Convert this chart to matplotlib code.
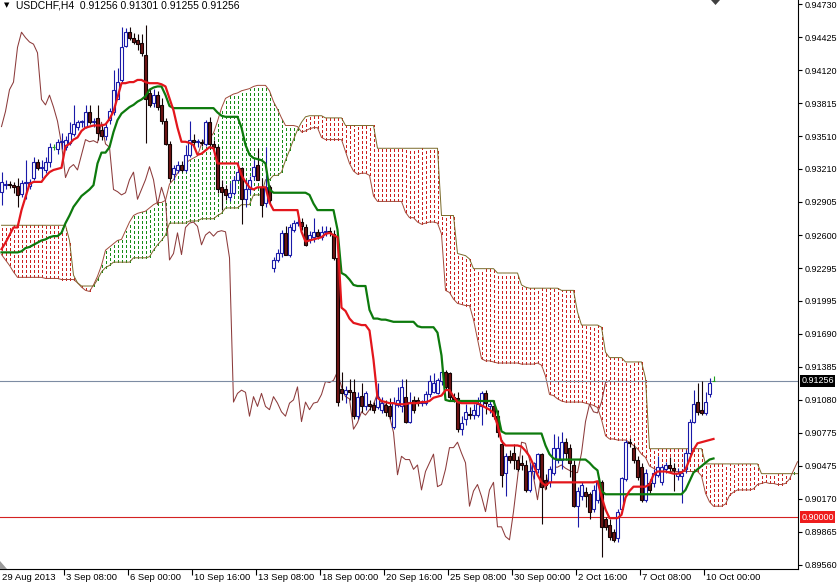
import matplotlib
matplotlib.use("Agg")
import matplotlib.pyplot as plt
import numpy as np
from matplotlib.transforms import blended_transform_factory
from matplotlib.patches import Polygon

# ---------------- data ----------------
symbol_title = "USDCHF,H4  0.91256 0.91301 0.91255 0.91256"
last_price = 0.91256
level_line = 0.90000

opens = [
 0.9300, 0.9306, 0.9307, 0.9306, 0.9305, 0.9298, 0.9308, 0.9305, 0.9313, 0.9327,
 0.9322, 0.9320, 0.9327, 0.9341, 0.9339, 0.9346, 0.9341, 0.9345, 0.9353, 0.9360,
 0.9364, 0.9360, 0.9373, 0.9364, 0.9368, 0.9357, 0.9351, 0.9366, 0.9373, 0.9385,
 0.9403, 0.9434, 0.9447, 0.9442, 0.9440, 0.9437, 0.9426, 0.9391, 0.9382, 0.9389,
 0.9380, 0.9365, 0.9344, 0.9316, 0.9320, 0.9325, 0.9320, 0.9334, 0.9348, 0.9346,
 0.9346, 0.9344, 0.9364, 0.9344, 0.9341, 0.9304, 0.9302, 0.9295, 0.9299, 0.9311,
 0.9322, 0.9293, 0.9302, 0.9314, 0.9325, 0.9304, 0.9290, 0.9304, 0.9230, 0.9237,
 0.9243, 0.9262, 0.9242, 0.9265, 0.9271, 0.9272, 0.9267, 0.9256, 0.9258, 0.9263,
 0.9258, 0.9263, 0.9264, 0.9261, 0.9239, 0.9118, 0.9113, 0.9117, 0.9115, 0.9093,
 0.9112, 0.9102, 0.9104, 0.9103, 0.9101, 0.9099, 0.9103, 0.9102, 0.9083, 0.9103,
 0.9102, 0.9111, 0.9088, 0.9108, 0.9108, 0.9105, 0.9105, 0.9113, 0.9115, 0.9114,
 0.9125, 0.9134, 0.9133, 0.9111, 0.9110, 0.9081, 0.9090, 0.9095, 0.9094, 0.9094,
 0.9102, 0.9114, 0.9102, 0.9102, 0.9093, 0.9067, 0.9041, 0.9056, 0.9059, 0.9053,
 0.9050, 0.9048, 0.9025, 0.9042, 0.9044, 0.9058, 0.9034, 0.9032, 0.9041, 0.9053,
 0.9053, 0.9069, 0.9064, 0.9048, 0.9010, 0.9019, 0.9023, 0.9021, 0.9007, 0.9016,
 0.9032, 0.8998, 0.8993, 0.8986, 0.8981, 0.9007, 0.9035, 0.9069, 0.9064, 0.9053,
 0.9046, 0.9016, 0.9031, 0.9031, 0.9039, 0.9032, 0.9044, 0.9048, 0.9045, 0.9038,
 0.9038, 0.9044, 0.9059, 0.9088, 0.9106, 0.9099, 0.9096, 0.9113, 0.91256]

highs = [
 0.9318, 0.9311, 0.9310, 0.9309, 0.9313, 0.9311, 0.9329, 0.9312, 0.9332, 0.9330,
 0.9329, 0.9332, 0.9345, 0.9344, 0.9349, 0.9354, 0.9351, 0.9364, 0.9380, 0.9366,
 0.9366, 0.9380, 0.9380, 0.9368, 0.9380, 0.9362, 0.9363, 0.9377, 0.9412, 0.9414,
 0.9452, 0.9451, 0.9452, 0.9446, 0.9445, 0.9445, 0.9454, 0.9396, 0.9395, 0.9393,
 0.9386, 0.9368, 0.9347, 0.9325, 0.9328, 0.9328, 0.9343, 0.9365, 0.9353, 0.9349,
 0.9349, 0.9366, 0.9369, 0.9348, 0.9343, 0.9311, 0.9306, 0.9308, 0.9314, 0.9327,
 0.9323, 0.9311, 0.9314, 0.9329, 0.9340, 0.9313, 0.9341, 0.9306, 0.9240, 0.9247,
 0.9265, 0.9268, 0.9270, 0.9274, 0.9276, 0.9276, 0.9270, 0.9264, 0.9276, 0.9266,
 0.9268, 0.9268, 0.9267, 0.9265, 0.9242, 0.9134, 0.9121, 0.9127, 0.9127, 0.9115,
 0.9124, 0.9116, 0.9108, 0.9106, 0.9124, 0.9111, 0.9108, 0.9110, 0.9111, 0.9120,
 0.9127, 0.9127, 0.9115, 0.9112, 0.9111, 0.9108, 0.9116, 0.9131, 0.9133, 0.9128,
 0.9136, 0.9136, 0.9134, 0.9114, 0.9115, 0.9093, 0.9104, 0.9101, 0.9104, 0.9111,
 0.9116, 0.9117, 0.9108, 0.9108, 0.9099, 0.9071, 0.9059, 0.9062, 0.9067, 0.9056,
 0.9057, 0.9053, 0.9050, 0.9051, 0.9059, 0.9059, 0.9040, 0.9047, 0.9077, 0.9075,
 0.9078, 0.9073, 0.9067, 0.9053, 0.9028, 0.9032, 0.9028, 0.9023, 0.9030, 0.9034,
 0.9034, 0.9000, 0.8998, 0.8989, 0.9007, 0.9037, 0.9071, 0.9073, 0.9067, 0.9056,
 0.9050, 0.9044, 0.9035, 0.9044, 0.9056, 0.9048, 0.9051, 0.9055, 0.9050, 0.9045,
 0.9044, 0.9062, 0.9090, 0.9117, 0.9124, 0.9125, 0.9115, 0.9128, 0.91301]

lows = [
 0.9288, 0.9302, 0.9303, 0.9299, 0.9286, 0.9295, 0.9293, 0.9302, 0.9311, 0.9320,
 0.9313, 0.9317, 0.9323, 0.9338, 0.9335, 0.9339, 0.9338, 0.9343, 0.9351, 0.9357,
 0.9360, 0.9359, 0.9362, 0.9360, 0.9348, 0.9348, 0.9348, 0.9362, 0.9371, 0.9385,
 0.9401, 0.9433, 0.9440, 0.9436, 0.9431, 0.9425, 0.9345, 0.9378, 0.9378, 0.9375,
 0.9362, 0.9343, 0.9309, 0.9311, 0.9317, 0.9318, 0.9318, 0.9332, 0.9341, 0.9341,
 0.9342, 0.9342, 0.9339, 0.9338, 0.9299, 0.9283, 0.9292, 0.9291, 0.9297, 0.9311,
 0.9270, 0.9286, 0.9298, 0.9311, 0.9311, 0.9277, 0.9286, 0.9290, 0.9226, 0.9235,
 0.9240, 0.9242, 0.9240, 0.9263, 0.9268, 0.9265, 0.9250, 0.9253, 0.9254, 0.9256,
 0.9255, 0.9259, 0.9259, 0.9237, 0.9102, 0.9108, 0.9105, 0.9108, 0.9090, 0.9090,
 0.9097, 0.9099, 0.9099, 0.9096, 0.9100, 0.9096, 0.9093, 0.9090, 0.9081, 0.9101,
 0.9097, 0.9087, 0.9087, 0.9096, 0.9102, 0.9102, 0.9103, 0.9111, 0.9114, 0.9113,
 0.9122, 0.9118, 0.9108, 0.9106, 0.9078, 0.9076, 0.9085, 0.9090, 0.9090, 0.9092,
 0.9085, 0.9095, 0.9096, 0.9090, 0.9074, 0.9028, 0.9019, 0.9050, 0.9044, 0.9042,
 0.9043, 0.9023, 0.9023, 0.9035, 0.9041, 0.8994, 0.9026, 0.9028, 0.9039, 0.9050,
 0.9044, 0.9053, 0.9037, 0.9009, 0.8991, 0.9016, 0.9009, 0.8998, 0.9005, 0.9013,
 0.8963, 0.8988, 0.8979, 0.8977, 0.8977, 0.9004, 0.9033, 0.9065, 0.9050, 0.9034,
 0.9014, 0.9014, 0.9022, 0.9028, 0.9037, 0.9030, 0.9041, 0.9042, 0.9024, 0.9034,
 0.9013, 0.9041, 0.9057, 0.9087, 0.9094, 0.9094, 0.9094, 0.9111, 0.91255]

closes = [
 0.9309, 0.9307, 0.9306, 0.9304, 0.9297, 0.9308, 0.9309, 0.9309, 0.9327, 0.9322,
 0.9323, 0.9327, 0.9341, 0.9341, 0.9346, 0.9347, 0.9348, 0.9354, 0.9362, 0.9364,
 0.9365, 0.9373, 0.9364, 0.9365, 0.9354, 0.9351, 0.9360, 0.9374, 0.9394, 0.9401,
 0.9433, 0.9447, 0.9442, 0.9438, 0.9436, 0.9428, 0.9385, 0.9380, 0.9389, 0.9378,
 0.9365, 0.9344, 0.9313, 0.9322, 0.9325, 0.9320, 0.9334, 0.9348, 0.9346, 0.9347,
 0.9345, 0.9364, 0.9344, 0.9341, 0.9302, 0.9300, 0.9297, 0.9299, 0.9311, 0.9318,
 0.9293, 0.9302, 0.9311, 0.9323, 0.9311, 0.9288, 0.9304, 0.9292, 0.9237, 0.9243,
 0.9262, 0.9242, 0.9267, 0.9271, 0.9272, 0.9268, 0.9251, 0.9260, 0.9263, 0.9259,
 0.9263, 0.9264, 0.9263, 0.9239, 0.9106, 0.9114, 0.9117, 0.9115, 0.9093, 0.9111,
 0.9102, 0.9114, 0.9102, 0.9099, 0.9111, 0.9105, 0.9097, 0.9093, 0.9105, 0.9108,
 0.9120, 0.9088, 0.9106, 0.9099, 0.9105, 0.9106, 0.9113, 0.9125, 0.9124, 0.9126,
 0.9134, 0.9120, 0.9111, 0.9109, 0.9081, 0.9087, 0.9097, 0.9094, 0.9099, 0.9104,
 0.9114, 0.9105, 0.9104, 0.9093, 0.9078, 0.9039, 0.9056, 0.9053, 0.9053, 0.9044,
 0.9048, 0.9025, 0.9042, 0.9050, 0.9058, 0.9028, 0.9030, 0.9044, 0.9064, 0.9064,
 0.9069, 0.9059, 0.9050, 0.9010, 0.9024, 0.9030, 0.9019, 0.9005, 0.9025, 0.9032,
 0.8991, 0.8991, 0.8982, 0.8979, 0.9005, 0.9036, 0.9069, 0.9068, 0.9053, 0.9037,
 0.9016, 0.9041, 0.9025, 0.9041, 0.9046, 0.9046, 0.9048, 0.9045, 0.9043, 0.9041,
 0.9041, 0.9059, 0.9088, 0.9104, 0.9097, 0.9096, 0.9106, 0.9124, 0.91256]

tenkan = [
 0.9247, 0.9253, 0.9260, 0.9267, 0.9267, 0.9283, 0.9295, 0.9307, 0.9309, 0.9309,
 0.9309, 0.9314, 0.9318, 0.9320, 0.9321, 0.9322, 0.9342, 0.9344, 0.9348, 0.9350,
 0.9356, 0.9359, 0.9360, 0.9361, 0.9361, 0.9361, 0.9362, 0.9367, 0.9374, 0.9387,
 0.9400, 0.9400, 0.9401, 0.9401, 0.9403, 0.9403, 0.9401, 0.9400, 0.9400, 0.9400,
 0.9399, 0.9397, 0.9386, 0.9375, 0.9359, 0.9346, 0.9346, 0.9345, 0.9343, 0.9334,
 0.9335, 0.9338, 0.9341, 0.9340, 0.9326, 0.9326, 0.9326, 0.9326, 0.9326, 0.9326,
 0.9315, 0.9309, 0.9304, 0.9302, 0.9304, 0.9304, 0.9304, 0.9290, 0.9283, 0.9283,
 0.9283, 0.9283, 0.9283, 0.9283, 0.9283, 0.9263, 0.9254, 0.9255, 0.9256, 0.9257,
 0.9258, 0.9261, 0.9262, 0.9260, 0.9258, 0.9193, 0.9190, 0.9183, 0.9179, 0.9178,
 0.9177, 0.9177, 0.9172, 0.9145, 0.9110, 0.9107, 0.9106, 0.9105, 0.9105, 0.9104,
 0.9104, 0.9104, 0.9105, 0.9105, 0.9105, 0.9106, 0.9106, 0.9107, 0.9110, 0.9111,
 0.9112, 0.9117, 0.9117, 0.9111, 0.9106, 0.9105, 0.9105, 0.9105, 0.9105, 0.9105,
 0.9103, 0.9101, 0.9099, 0.9096, 0.9085, 0.9070, 0.9066, 0.9066, 0.9066, 0.9066,
 0.9065, 0.9061, 0.9056, 0.9048, 0.9039, 0.9032, 0.9029, 0.9032, 0.9032, 0.9032,
 0.9032, 0.9032, 0.9032, 0.9032, 0.9032, 0.9032, 0.9032, 0.9032, 0.9032, 0.9033,
 0.9019, 0.9007, 0.8999, 0.8999, 0.8999, 0.9002, 0.9018, 0.9024, 0.9028, 0.9028,
 0.9028, 0.9028, 0.9030, 0.9039, 0.9042, 0.9042, 0.9042, 0.9041, 0.9040, 0.9040,
 0.9041, 0.9044, 0.9053, 0.9062, 0.9068, 0.9069, 0.9070, 0.9071, 0.9072]

kijun = (
 [0.9244] * 5 + [0.9245, 0.9248, 0.9249, 0.9251, 0.9253,
 0.9255, 0.9256, 0.9258, 0.9259, 0.9259, 0.9262, 0.9271, 0.9278, 0.9286, 0.9291,
 0.9296, 0.9299, 0.9302, 0.9306, 0.9326, 0.9336, 0.9336, 0.9341, 0.9355, 0.9366,
 0.9372, 0.9375, 0.9378, 0.9380, 0.9383, 0.9385, 0.9388, 0.9394, 0.9396, 0.9397,
 0.9397, 0.9389, 0.9379] + [0.9377] * 11 + [0.9373, 0.9370] + [0.9369] * 4
 + [0.9359, 0.9343, 0.9334, 0.9331, 0.9330, 0.9329, 0.9326, 0.9302] + [0.9299] * 9
 + [0.9297, 0.9289] + [0.9283] * 5 + [0.9265, 0.9225, 0.9223, 0.9219, 0.9214]
 + [0.9213] * 3 + [0.9191, 0.9183, 0.9183, 0.9182, 0.9182, 0.9181] + [0.9180] * 6
 + [0.9176] + [0.9175] * 4 + [0.9170, 0.9149, 0.9108] + [0.9107] * 12
 + [0.9096, 0.9079] + [0.9077] * 10 + [0.9066, 0.9058, 0.9054] + [0.9053] * 8
 + [0.9050, 0.9046, 0.9043, 0.9024] + [0.9021] * 20
 + [0.9025, 0.9033, 0.9041, 0.9044, 0.9047, 0.9050, 0.9053, 0.9054])

span_a = (
 [0.9242, 0.9237, 0.9232, 0.9226] + [0.9221] * 7 + [0.9220] * 4 + [0.9219] * 4
 + [0.9216, 0.9212, 0.9209, 0.9208, 0.9214, 0.9222, 0.9232,
 0.9246, 0.9249, 0.9252, 0.9255, 0.9256, 0.9264, 0.9272, 0.9278, 0.9280, 0.9281,
 0.9282, 0.9285, 0.9288, 0.9290, 0.9290, 0.9292, 0.9307, 0.9311, 0.9317, 0.9321,
 0.9326, 0.9329, 0.9331, 0.9333, 0.9344, 0.9349, 0.9349, 0.9354, 0.9365, 0.9377,
 0.9386, 0.9388, 0.9390, 0.9391, 0.9393, 0.9394, 0.9395, 0.9397, 0.9398, 0.9398,
 0.9398, 0.9393, 0.9383, 0.9376, 0.9368, 0.9361, 0.9361, 0.9361, 0.9360, 0.9355,
 0.9356, 0.9358, 0.9359, 0.9359, 0.9350, 0.9348] + [0.9348] * 4
 + [0.9337, 0.9326, 0.9319, 0.9316, 0.9317, 0.9317, 0.9315, 0.9296] + [0.9291] * 7
 + [0.9281, 0.9276, 0.9276, 0.9272, 0.9270, 0.9271, 0.9272, 0.9272, 0.9271, 0.9261,
 0.9209, 0.9207, 0.9201, 0.9197, 0.9196, 0.9195, 0.9195, 0.9182, 0.9164, 0.9146,
 0.9144, 0.9144, 0.9143] + [0.9142] * 6 + [0.9141] * 4
 + [0.9142, 0.9140, 0.9130, 0.9113, 0.9112, 0.9109, 0.9107] + [0.9106] * 5
 + [0.9105, 0.9104, 0.9103, 0.9101, 0.9090, 0.9075, 0.9072, 0.9072, 0.9071, 0.9071,
 0.9071, 0.9069, 0.9066, 0.9063, 0.9058, 0.9055, 0.9047, 0.9045, 0.9043]
 + [0.9042] * 10 + [0.9038, 0.9022, 0.9014] + [0.9010] * 3
 + [0.9012, 0.9020, 0.9023] + [0.9025] * 4
 + [0.9026, 0.9030, 0.9031, 0.9032, 0.9031, 0.9031, 0.9030, 0.9030, 0.9031, 0.9035,
 0.9043, 0.9051])

span_b = (
 [0.9269] * 17 + [0.9255, 0.9223, 0.9216] + [0.9213] * 4
 + [0.9219, 0.9226, 0.9230, 0.9232] + [0.9235] * 5 + [0.9239] * 4
 + [0.9240, 0.9246, 0.9251, 0.9255, 0.9260] + [0.9271] * 5 + [0.9273] * 3
 + [0.9275] * 4 + [0.9278, 0.9280] + [0.9285] * 4 + [0.9288] * 3 + [0.9297] * 3
 + [0.9311] * 2 + [0.9315] * 2
 + [0.9318, 0.9329, 0.9338, 0.9348, 0.9357, 0.9364, 0.9369]
 + [0.9370] * 4 + [0.9368] * 5 + [0.9361] * 8 + [0.9340] * 16 + [0.9278] * 4
 + [0.9243, 0.9242, 0.9241, 0.9238] + [0.9229] * 6 + [0.9225] * 6
 + [0.9214, 0.9212] + [0.9211] * 8 + [0.9209] * 4 + [0.9189] + [0.9177] * 5
 + [0.9175, 0.9152] + [0.9147] * 4 + [0.9143] * 5 + [0.9128]
 + [0.9063] * 14 + [0.9049] * 14 + [0.9040] * 10)

chikou_shift = 26

y_ticks = [0.94730, 0.94425, 0.94120, 0.93815, 0.93510, 0.93210, 0.92905, 0.92600,
           0.92295, 0.91995, 0.91690, 0.91385, 0.91080, 0.90775, 0.90475, 0.90170,
           0.89865, 0.89560]

x_labels = ["29 Aug 2013", "3 Sep 08:00", "6 Sep 00:00", "10 Sep 16:00",
            "13 Sep 08:00", "18 Sep 00:00", "20 Sep 16:00", "25 Sep 08:00",
            "30 Sep 00:00", "2 Oct 16:00", "7 Oct 08:00", "10 Oct 00:00"]
x_label_bars = [0, 16, 32, 48, 64, 80, 96, 112, 128, 144, 160, 176]

# ---------------- style ----------------
plt.rcParams['font.family'] = ['Liberation Sans', 'DejaVu Sans']
BULL = '#1a1aa8'
BEAR_FILL = '#6e1414'
BEAR_EDGE = '#140404'
DOJI = '#1fa01f'
TENKAN_C = '#e3161c'
KIJUN_C = '#0d7a0d'
CHIKOU_C = '#8c3b3b'
CLOUD_RED = '#cc1f1f'
CLOUD_GREEN = '#168c16'
SPAN_A_C = '#a04a3a'
SPAN_B_C = '#7a6a2a'

W, H = 838, 584
fig = plt.figure(figsize=(W / 100, H / 100), dpi=100)
fig.patch.set_facecolor('white')
ax = fig.add_axes([0, 15 / H, 798 / W, 569 / H])
ax.set_facecolor('white')
ax.set_xlim(-0.375, 199.125)
ax.set_ylim(0.89521, 0.94767)

# cloud (dotted vertical fill between the two spans)
n = min(len(span_a), len(span_b))
xs = np.arange(n)
a = np.array(span_a[:n])
b = np.array(span_b[:n])
up = a >= b
ax.vlines(xs[up], b[up], a[up], colors=CLOUD_GREEN, linestyles=[(0, (2, 2))],
          linewidth=0.75, zorder=1, antialiased=False)
ax.vlines(xs[~up], a[~up], b[~up], colors=CLOUD_RED, linestyles=[(0, (2, 2))],
          linewidth=0.75, zorder=1, antialiased=False)
ax.plot(xs, a, color=SPAN_A_C, lw=0.7, zorder=1.5)
ax.plot(xs, b, color=SPAN_B_C, lw=0.7, zorder=1.5)

# chikou span (closes displayed 26 bars back)
ch = np.array(closes[chikou_shift:])
ax.plot(np.arange(len(ch)), ch, color=CHIKOU_C, lw=0.75, zorder=2)

# horizontal lines
ax.axhline(last_price, color='#7d8ca3', lw=0.8, zorder=2.2)
ax.axhline(level_line, color='#d42222', lw=0.8, zorder=2.2)

# candles
o = np.array(opens); h = np.array(highs); l = np.array(lows); c = np.array(closes)
x = np.arange(len(o))
bull = c > o
bear = c < o
doji = c == o
ax.vlines(x[bull], l[bull], h[bull], colors=BULL, lw=0.8, zorder=3)
ax.vlines(x[bear], l[bear], h[bear], colors=BEAR_EDGE, lw=0.8, zorder=3)
ax.vlines(x[doji], l[doji], h[doji], colors=DOJI, lw=0.8, zorder=3)
ax.bar(x[bull], c[bull] - o[bull], bottom=o[bull], width=0.55, facecolor='white',
       edgecolor=BULL, linewidth=0.8, zorder=3.1)
ax.bar(x[bear], o[bear] - c[bear], bottom=c[bear], width=0.55, facecolor=BEAR_FILL,
       edgecolor=BEAR_EDGE, linewidth=0.8, zorder=3.1)
ax.hlines(o[doji], x[doji] - 0.4, x[doji] + 0.4, colors=DOJI, lw=0.8, zorder=3.1)

# ichimoku lines
ax.plot(np.arange(len(kijun)), kijun, color=KIJUN_C, lw=1.6, zorder=4,
        solid_joinstyle='round')
ax.plot(np.arange(len(tenkan)), tenkan, color=TENKAN_C, lw=1.6, zorder=4.5,
        solid_joinstyle='round')

# spines
for s in ['top', 'left']:
    ax.spines[s].set_visible(False)
for s in ['right', 'bottom']:
    ax.spines[s].set_color('black')
    ax.spines[s].set_linewidth(0.8)

# y axis on right
ax.yaxis.tick_right()
ax.set_yticks(y_ticks)
ax.set_yticklabels([f"{v:.5f}" for v in y_ticks])
ax.tick_params(axis='y', direction='out', length=3, width=0.8, pad=1.5,
               labelsize=6.5, colors='black')

# x axis ticks and labels
ax.set_xticks([bb - 0.5 for bb in x_label_bars[1:]])
ax.tick_params(axis='x', direction='out', length=4, width=0.8, labelbottom=False)
tr = blended_transform_factory(ax.transData, ax.transAxes)
for bb, lab in zip(x_label_bars, x_labels):
    ax.text(bb + 0.2, -8.5 / 569, lab, transform=tr, ha='left', va='center',
            fontsize=6.8, color='black', clip_on=False)

# price boxes
trb = blended_transform_factory(ax.transAxes, ax.transData)
ax.text(1.004, last_price, f"{last_price:.5f}", transform=trb, ha='left', va='center',
        fontsize=6.5, color='white', clip_on=False, zorder=10,
        bbox=dict(boxstyle='square,pad=0.18', fc='black', ec='none'))
ax.text(1.004, level_line, f"{level_line:.5f}", transform=trb, ha='left', va='center',
        fontsize=6.5, color='white', clip_on=False, zorder=10,
        bbox=dict(boxstyle='square,pad=0.18', fc='#ee1c1c', ec='none'))

# title
fig.text(4 / W, 1 - 5.5 / H, '\u25BC', fontsize=5, family=['DejaVu Sans'],
         ha='left', va='center', color='black')
fig.text(16 / W, 1 - 5.5 / H, symbol_title, fontsize=7.5, ha='left', va='center',
         color='black')

# small chart markers
def px(pts):
    return [(p[0] / W, 1 - p[1] / H) for p in pts]
fig.add_artist(Polygon(px([(711, 0), (720, 0), (715.5, 5)]), closed=True,
                       transform=fig.transFigure, fc='#404040', ec='none'))
fig.add_artist(Polygon(px([(0, 561), (0, 569), (7, 569)]), closed=True,
                       transform=fig.transFigure, fc='#9a9a9a', ec='none'))

fig.savefig('out.png', dpi=100, facecolor='white')
